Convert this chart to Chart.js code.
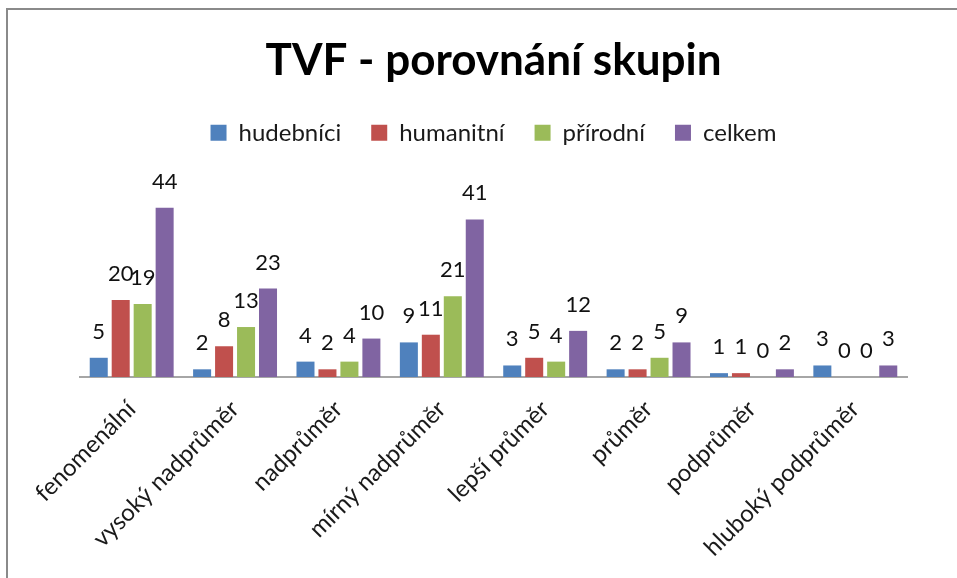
<!DOCTYPE html>
<html lang="cs">
<head>
<meta charset="utf-8">
<title>TVF - porovnání skupin</title>
<script src="https://cdn.jsdelivr.net/npm/chart.js@4.4.1/dist/chart.umd.min.js"></script>
<style>
  html, body { margin: 0; padding: 0; background: #fff; overflow: hidden; }
  #ramecek { position: absolute; left: 6px; top: 8px; width: 1000px; height: 640px; border: 2px solid #8a8a8a; }
  #graf { position: absolute; left: 0; top: 0; }
</style>
</head>
<body>
<div id="ramecek"></div>
<canvas id="graf" width="957" height="578"></canvas>
<script>
// kategorie výsledků TVF
const kategorie = ['fenomenální', 'vysoký nadprůměr', 'nadprůměr', 'mírný nadprůměr',
                   'lepší průměr', 'průměr', 'podprůměr', 'hluboký podprůměr'];

// počty v jednotlivých skupinách
const hudebnici = [5, 2, 4, 9, 3, 2, 1, 3];
const humanitni = [20, 8, 2, 11, 5, 2, 1, 0];
const prirodni  = [19, 13, 4, 21, 4, 5, 0, 0];
const celkem    = [44, 23, 10, 41, 12, 9, 2, 3];

const nazvySkupin = ['hudebníci', 'humanitní', 'přírodní', 'celkem'];
const barvy = ['#4F81BD', '#C0504D', '#9BBB59', '#8064A2'];

const pismo = 'Lato, "Open Sans", sans-serif';

// popisky hodnot nad sloupci
const popiskyHodnot = {
    id: 'popiskyHodnot',
    afterDatasetsDraw(chart) {
        const ctx = chart.ctx;
        ctx.save();
        ctx.font = '22px ' + pismo;
        ctx.fillStyle = '#111';
        ctx.textAlign = 'center';
        ctx.textBaseline = 'alphabetic';
        chart.data.datasets.forEach((ds, i) => {
            chart.getDatasetMeta(i).data.forEach((sloupec, j) => {
                ctx.fillText(ds.data[j], sloupec.x, sloupec.y - 19);
            });
        });
        ctx.restore();
    }
};

// větší mezera pod legendou
const mezeraPodLegendou = {
    id: 'mezeraPodLegendou',
    beforeInit(chart) {
        const puvodniFit = chart.legend.fit;
        chart.legend.fit = function () {
            puvodniFit.call(this);
            this.height += 30;
        };
    }
};

const radyDat = [hudebnici, humanitni, prirodni, celkem].map((hodnoty, i) => ({
    label: nazvySkupin[i],
    data: hodnoty,
    backgroundColor: barvy[i],
    borderWidth: 0,
    categoryPercentage: 0.85,
    barPercentage: 0.82,
    clip: false
}));

const ctx = document.getElementById('graf').getContext('2d');
new Chart(ctx, {
    type: 'bar',
    data: { labels: kategorie, datasets: radyDat },
    plugins: [popiskyHodnot, mezeraPodLegendou],
    options: {
        responsive: false,
        animation: false,
        layout: { padding: { left: 80, right: 50, top: 0, bottom: 0 } },
        plugins: {
            title: {
                display: true,
                text: 'TVF - porovnání skupin',
                color: '#000',
                font: { family: pismo, size: 44, weight: 'bold' },
                padding: { top: 34, bottom: 4 }
            },
            legend: {
                position: 'top',
                labels: {
                    color: '#1a1a1a',
                    font: { family: pismo, size: 24 },
                    boxWidth: 16,
                    boxHeight: 16,
                    padding: 30
                }
            },
            tooltip: { enabled: false }
        },
        scales: {
            x: {
                grid: { display: false },
                border: { display: true, color: '#a6a6a6', width: 2 },
                ticks: {
                    color: '#1a1a1a',
                    font: { family: pismo, size: 24 },
                    minRotation: 45,
                    maxRotation: 45,
                    padding: 10
                },
                afterFit(scale) { scale.height = 578 - 377; }
            },
            y: {
                display: false,
                min: 0,
                max: 50
            }
        }
    }
});
</script>
</body>
</html>
